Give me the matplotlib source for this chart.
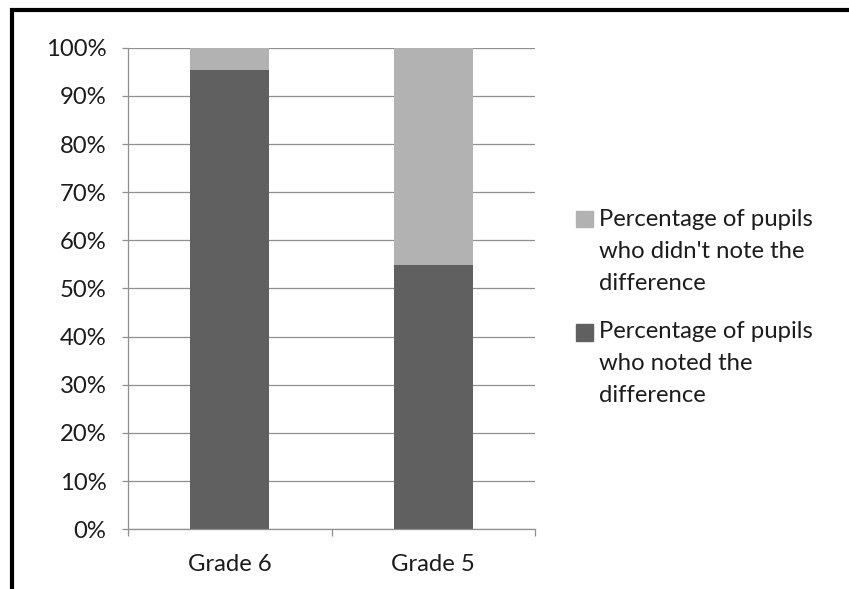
import matplotlib
matplotlib.use('Agg')
import matplotlib.pyplot as plt
import matplotlib.patches as mpatches
from matplotlib.lines import Line2D
import numpy as np

plt.rcParams['font.family'] = ['Lato', 'DejaVu Sans']

# Data
grades = ['Grade 6', 'Grade 5']
noted = [95.3, 54.8]
not_noted = [4.7, 45.2]
series_labels = ["Percentage of pupils\nwho didn't note the\ndifference",
                 "Percentage of pupils\nwho noted the\ndifference"]
series_colors = ['#b2b2b2', '#606060']
y_ticks = [0, 10, 20, 30, 40, 50, 60, 70, 80, 90, 100]

W, H = 849, 589
FS = 17.2
TXT = '#1c1c1c'
GRID = '#8f8f8f'

fig = plt.figure(figsize=(W / 100, H / 100), dpi=100)
ax = fig.add_axes([128 / W, 1 - 529.3 / H, (535 - 128) / W, (529.3 - 47.7) / H])

x = np.arange(len(grades))
ax.bar(x, noted, width=0.39, color=series_colors[1], zorder=2)
ax.bar(x, not_noted, width=0.39, bottom=noted, color=series_colors[0], zorder=2)

ax.set_xlim(-0.5, 1.5)
ax.set_ylim(0, 100)
ax.set_yticks(y_ticks)
ax.set_yticklabels(['%d%%' % v for v in y_ticks])
ax.set_xticks(x)
ax.set_xticklabels(grades)
ax.set_xticks([-0.5, 0.5, 1.5], minor=True)

ax.yaxis.grid(True, color=GRID, linewidth=0.9)
ax.set_axisbelow(True)
for s in ['top', 'right']:
  ax.spines[s].set_visible(False)
for s in ['left', 'bottom']:
  ax.spines[s].set_color(GRID)
  ax.spines[s].set_linewidth(0.9)

ax.tick_params(axis='y', length=4.5, width=0.9, color=GRID, pad=11,
               labelsize=FS, labelcolor=TXT)
ax.tick_params(axis='x', which='major', length=0, pad=18,
               labelsize=FS, labelcolor=TXT)
ax.tick_params(axis='x', which='minor', length=5, width=0.9, color=GRID)

# Legend, drawn by hand so the swatch sits beside the first line
leg_x = 576
leg_tops = [211, 324]
sq = 16.5
for lab, col, top in zip(series_labels, series_colors, leg_tops):
  fig.patches.append(mpatches.Rectangle((leg_x / W, 1 - (top + sq) / H), sq / W, sq / H,
                                        transform=fig.transFigure, color=col))
  for i, line in enumerate(lab.split('\n')):
    fig.text(599 / W, 1 - (top + sq - 2 + 32 * i) / H, line, fontsize=FS, color=TXT,
             va='baseline', ha='left')

# Black frame (top and left edges)
fig.add_artist(Line2D([10 / W, 1], [1 - 10 / H, 1 - 10 / H], color='black', linewidth=3,
                      transform=fig.transFigure, solid_capstyle='butt'))
fig.add_artist(Line2D([12 / W, 12 / W], [1 - 8 / H, 0], color='black', linewidth=3,
                      transform=fig.transFigure, solid_capstyle='butt'))

plt.savefig('out.png', dpi=100)
